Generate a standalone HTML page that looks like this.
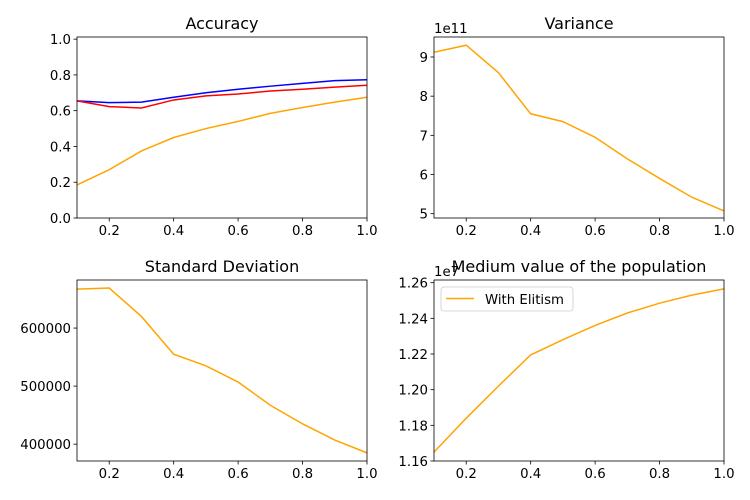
<!DOCTYPE html>
<html><head><meta charset="utf-8"><style>
body{margin:0;background:#fff;}
svg{display:block;font-family:"DejaVu Sans","Liberation Sans",sans-serif;}
</style></head><body>
<svg id="c" width="750" height="500"></svg>
<script>
const xVals=[0.1,0.2,0.3,0.4,0.5,0.6,0.7,0.8,0.9,1.0];
const accBlue=[0.655,0.645,0.648,0.675,0.70,0.72,0.737,0.753,0.768,0.773];
const accRed=[0.655,0.623,0.615,0.66,0.683,0.693,0.71,0.72,0.732,0.742];
const accOrange=[0.185,0.27,0.375,0.45,0.50,0.54,0.585,0.618,0.648,0.675];
const variance=[9.12,9.30,8.60,7.55,7.35,6.95,6.40,5.90,5.42,5.07];
const stdDev=[667000,669000,620000,555000,535000,507000,467000,435000,407000,385000];
const mediumVal=[1.165,1.184,1.202,1.2195,1.228,1.236,1.243,1.2485,1.253,1.2565];
const xTicks=[0.2,0.4,0.6,0.8,1.0];
const accTicks=[0,0.2,0.4,0.6,0.8,1.0];
const varTicks=[5,6,7,8,9];
const stdTicks=[400000,500000,600000];
const medTicks=[1.16,1.18,1.20,1.22,1.24,1.26];
const NS="http://www.w3.org/2000/svg";
const svg=document.getElementById('c');
function mk(t,a,p){const e=document.createElementNS(NS,t);for(const k in a)e.setAttribute(k,a[k]);(p||svg).appendChild(e);return e;}
function panel(name,L,T,W,H,ymin,ymax,yt,yfmt,title,series,offset){
  const g=mk('g',{});
  
  
  const sx=v=>L+(v-0.1)/0.9*W, sy=v=>T+H-(v-ymin)/(ymax-ymin)*H;
  series.forEach(s=>{
    const p=mk('polyline',{points:xVals.map((x,i)=>sx(x)+','+sy(s.d[i])).join(' '),fill:'none',stroke:s.c,'stroke-width':1.5},g);
    
    
  });
  const r=mk('rect',{x:L,y:T,width:W,height:H,fill:'none',stroke:'#000','stroke-width':0.8},g);
  
  
  xTicks.forEach(v=>{const x=sx(v);mk('line',{x1:x,x2:x,y1:T+H,y2:T+H+3.5,stroke:'#000','stroke-width':0.8},g);
    const t=mk('text',{x:x,y:T+H+17,'font-size':13.3,'text-anchor':'middle',fill:'#000'},g);t.textContent=v.toFixed(1);
    
    });
  yt.forEach(v=>{const y=sy(v);mk('line',{x1:L-3.5,x2:L,y1:y,y2:y,stroke:'#000','stroke-width':0.8},g);
    const t=mk('text',{x:L-6,y:y+5,'font-size':13.3,'text-anchor':'end',fill:'#000'},g);t.textContent=yfmt(v);
    
    });
  const tt=mk('text',{x:L+W/2,y:T-8,'font-size':16,'text-anchor':'middle',fill:'#000'},g);tt.textContent=title;
  
  
  if(offset){const o=mk('text',{x:L,y:T-4,'font-size':13.3,fill:'#000'},g);o.textContent=offset;
    
    }
}
panel('accuracy-panel',77,37,290,181,0,1.012,accTicks,v=>v.toFixed(1),'Accuracy',
 [{d:accOrange,c:'orange',n:'accuracy-orange-line'},{d:accBlue,c:'blue',n:'accuracy-blue-line'},{d:accRed,c:'red',n:'accuracy-red-line'}]);
panel('variance-panel',434,37,290,181,4.89,9.51,varTicks,v=>String(v),'Variance',[{d:variance,c:'orange',n:'variance-line'}],'1e11');
panel('std-panel',77,280,290,181,371000,682800,stdTicks,v=>String(v),'Standard Deviation',[{d:stdDev,c:'orange',n:'std-line'}]);
panel('medium-panel',434,280,290,181,1.16,1.2615,medTicks,v=>v.toFixed(2),'Medium value of the population',[{d:mediumVal,c:'orange',n:'medium-line'}],'1e7');
const lg=mk('g',{});


mk('rect',{x:441,y:287,width:132,height:24,rx:3,fill:'#fff','fill-opacity':0.8,stroke:'#ccc','stroke-width':0.8},lg);
mk('line',{x1:446,x2:474,y1:298.5,y2:298.5,stroke:'orange','stroke-width':1.5},lg);
const lt=mk('text',{x:485,y:304,'font-size':13.3,fill:'#000'},lg);lt.textContent='With Elitism';


</script>
</body></html>
